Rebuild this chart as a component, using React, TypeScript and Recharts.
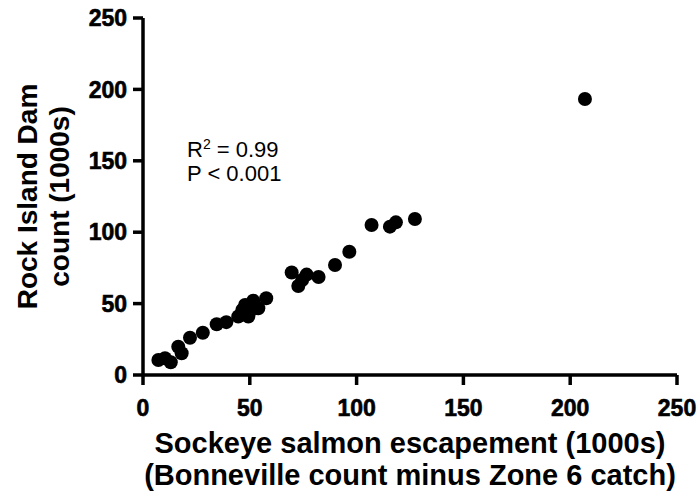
import { ScatterChart, Scatter, XAxis, YAxis, Label } from "recharts";

// Sockeye escapement (Bonneville minus Zone 6 catch) vs Rock Island Dam count, 1000s
const escapement = [
  7.2, 10.3, 13, 16.5, 18.1, 22, 28, 34.5, 39, 44.6, 46.5, 47.8, 49.3, 50, 51.6,
  54, 57.7, 69.6, 72.7, 74.5, 76.6, 82.2, 89.9, 96.6, 107, 115.6, 118.4, 127.3, 206.9,
];
const rockIsland = [
  10.5, 11.7, 8.9, 19.8, 15.2, 26.1, 29.6, 35.5, 37, 41, 45.5, 49, 41, 44.5, 52,
  46.7, 53.7, 71.8, 62.3, 66.5, 70.3, 68.6, 77, 86.3, 105, 103.9, 106.9, 109.2, 193.3,
];
const axisTicks = [0, 50, 100, 150, 200, 250];

const points = escapement.map((x, i) => ({ x, y: rockIsland[i] }));

const FONT = "'Liberation Sans', Arial, sans-serif";
const axisLine = { stroke: "#000", strokeWidth: 3.5 };
const tickStyle = {
  fontFamily: FONT,
  fontWeight: 700,
  fontSize: 23,
  fill: "#000",
  stroke: "#000",
  strokeWidth: 0.6,
};

const Dot = (props: any) => <circle cx={props.cx} cy={props.cy} r={7} fill="#000" />;

export default function App() {
  return (
    <div style={{ position: "absolute", left: 0, top: 0, width: 699, height: 495, background: "#fff" }}>
      <ScatterChart width={699} height={495} margin={{ top: 18, right: 22, left: 58, bottom: 40 }}>
        <XAxis
          type="number"
          dataKey="x"
          domain={[0, 250]}
          ticks={axisTicks}
          height={80}
          axisLine={axisLine}
          tickLine={axisLine}
          tickSize={10}
          tickMargin={15}
          tick={tickStyle}
          allowDataOverflow
        >
          <Label
            content={(p: any) => {
              const vb = p.viewBox;
              const cx = vb.x + vb.width / 2;
              return (
                <text
                  x={cx}
                  textAnchor="middle"
                  fontFamily={FONT}
                  fontWeight={700}
                  fontSize={29}
                  fill="#000"
                >
                  <tspan x={cx} y={vb.y + 78}>Sockeye salmon escapement (1000s)</tspan>
                  <tspan x={cx} y={vb.y + 110}>(Bonneville count minus Zone 6 catch)</tspan>
                </text>
              );
            }}
          />
        </XAxis>
        <YAxis
          type="number"
          dataKey="y"
          domain={[0, 250]}
          ticks={axisTicks}
          width={85}
          axisLine={axisLine}
          tickLine={axisLine}
          tickSize={10}
          tickMargin={6}
          tick={tickStyle}
          allowDataOverflow
        >
          <Label
            content={(p: any) => {
              const vb = p.viewBox;
              const cy = vb.y + vb.height / 2;
              return (
                <g fontFamily={FONT} fontWeight={700} fontSize={28} fill="#000">
                  <text x={37} y={cy} textAnchor="middle" transform={`rotate(-90, 37, ${cy})`}>
                    Rock Island Dam
                  </text>
                  <text x={69} y={cy} textAnchor="middle" transform={`rotate(-90, 69, ${cy})`}>
                    count (1000s)
                  </text>
                </g>
              );
            }}
          />
        </YAxis>
        <Scatter data={points} shape={<Dot />} isAnimationActive={false} />
      </ScatterChart>
      <div
        style={{
          position: "absolute",
          left: 187,
          top: 138,
          fontFamily: FONT,
          fontSize: 22,
          lineHeight: "24px",
          color: "#000",
        }}
      >
        <div>
          R<sup style={{ fontSize: 14, verticalAlign: "8px", lineHeight: 0 }}>2</sup> = 0.99
        </div>
        <div>P &lt; 0.001</div>
      </div>
    </div>
  );
}
